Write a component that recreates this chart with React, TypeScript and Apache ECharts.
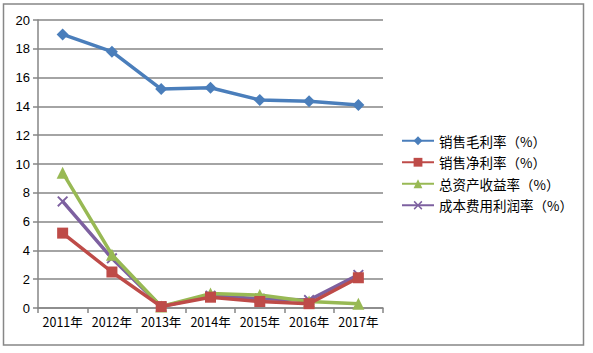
import React, { useEffect, useRef } from "react";
import * as echarts from "echarts";

const categories = ["2011年", "2012年", "2013年", "2014年", "2015年", "2016年", "2017年"];
const seriesNames = ["销售毛利率（%）", "销售净利率（%）", "总资产收益率（%）", "成本费用利润率（%）"];
const grossMargin = [19.0, 17.8, 15.2, 15.3, 14.45, 14.35, 14.1];
const netMargin = [5.2, 2.5, 0.1, 0.75, 0.45, 0.3, 2.1];
const roa = [9.4, 3.7, 0.1, 1.0, 0.9, 0.45, 0.3];
const costProfit = [7.4, 3.45, 0.1, 0.85, 0.65, 0.55, 2.3];
const colors = ["#4A7EBB", "#BE4B48", "#98B954", "#7D60A0"];

const xSymbol = "path://M0,1.2 L1.2,0 L5,3.8 L8.8,0 L10,1.2 L6.2,5 L10,8.8 L8.8,10 L5,6.2 L1.2,10 L0,8.8 L3.8,5 Z";

export default function App() {
  const ref = useRef<HTMLDivElement>(null);
  useEffect(() => {
    const chart = echarts.init(ref.current!, null, { renderer: "svg" });
    const font = "'Noto Sans CJK SC', 'Noto Sans', sans-serif";
    const symbols = ["diamond", "rect", "triangle", xSymbol];
    const sizes = [12, 11, 12, 11];
    const datas = [grossMargin, netMargin, roa, costProfit];
    chart.setOption({
      animation: false,
      textStyle: { fontFamily: font },
      graphic: [
        {
          type: "rect",
          shape: { x: 3.5, y: 4, width: 580, height: 341 },
          style: { fill: "none", stroke: "#878787", lineWidth: 1.5 },
          silent: true,
        },
      ],
      grid: { left: 38, right: 210, top: 20, bottom: 45 },
      legend: {
        orient: "vertical",
        left: 401,
        top: 134,
        padding: 0,
        itemWidth: 32,
        itemHeight: 11,
        itemGap: 8,
        textStyle: { fontSize: 13.5, color: "#000", fontFamily: font },
        data: seriesNames,
      },
      xAxis: {
        type: "category",
        data: categories,
        boundaryGap: true,
        axisLine: { lineStyle: { color: "#868686", width: 1.5 } },
        axisTick: { show: true, length: 5, lineStyle: { color: "#868686", width: 1.5 } },
        axisLabel: { color: "#000", fontSize: 12.5, margin: 7, interval: 0, fontFamily: font },
      },
      yAxis: {
        type: "value",
        min: 0,
        max: 20,
        interval: 2,
        axisLine: { show: true, lineStyle: { color: "#868686", width: 1.5 } },
        axisTick: { show: true, length: 5, inside: false, lineStyle: { color: "#868686", width: 1.5 } },
        splitLine: { lineStyle: { color: "#868686", width: 1.5 } },
        axisLabel: { color: "#000", fontSize: 13, margin: 8, fontFamily: "'Liberation Sans', sans-serif" },
      },
      series: seriesNames.map((name, i) => ({
        name,
        type: "line",
        data: datas[i],
        symbol: symbols[i],
        symbolSize: sizes[i],
        showAllSymbol: true,
        lineStyle: { color: colors[i], width: 3.5 },
        itemStyle: { color: colors[i] },
        z: 10 - i,
      })),
    });
    return () => chart.dispose();
  }, []);
  return (
    <div
      ref={ref}
      style={{ position: "fixed", left: 0, top: 0, width: 593, height: 353, background: "#fff" }}
    />
  );
}
